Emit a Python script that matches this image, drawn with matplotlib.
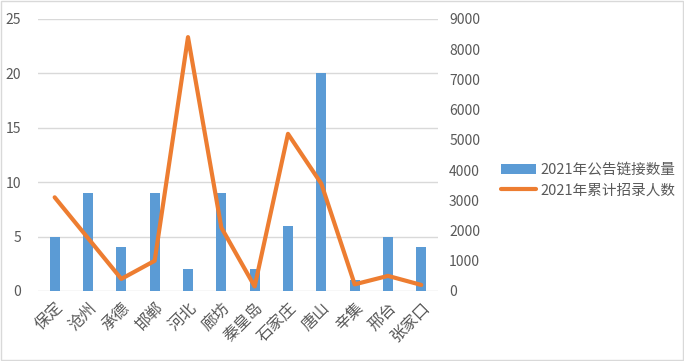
import matplotlib
matplotlib.use("Agg")
import matplotlib.pyplot as plt
from matplotlib.patches import Rectangle

plt.rcParams['font.family'] = ['Noto Sans CJK SC', 'DejaVu Sans']

# data
cities = ["保定", "沧州", "承德", "邯郸", "河北", "廊坊", "秦皇岛", "石家庄", "唐山", "辛集", "邢台", "张家口"]
links = [5, 9, 4, 9, 2, 9, 2, 6, 20, 1, 5, 4]
hires = [3100, 1750, 400, 1000, 8400, 2100, 150, 5200, 3550, 220, 500, 200]
bar_label = "2021年公告链接数量"
line_label = "2021年累计招录人数"

blue = "#5B9BD5"
orange = "#ED7D31"
tick_color = "#595959"
grid_color = "#D9D9D9"

fig = plt.figure(figsize=(6.84, 3.61), dpi=100)
ax = fig.add_axes([38/684, 1 - 291/361, 400/684, 272/361])
ax2 = ax.twinx()

x = list(range(len(cities)))
bars = ax.bar(x, links, width=0.3, color=blue, zorder=2)
line, = ax2.plot(x, hires, color=orange, linewidth=3, solid_capstyle="round", zorder=3)

ax.set_xlim(-0.5, len(cities) - 0.5)
ax.set_ylim(0, 25)
ax.set_yticks(range(0, 26, 5))
ax2.set_ylim(0, 9000)
ax2.set_yticks(range(0, 9001, 1000))

ax.grid(axis="y", color=grid_color, linewidth=1, zorder=0)
ax.set_axisbelow(True)

for a in (ax, ax2):
    for s in a.spines.values():
        s.set_visible(False)
    a.tick_params(length=0, colors=tick_color, labelsize=10)

ax.set_xticks(x)
ax.set_xticklabels(cities, rotation=45, ha="right", rotation_mode="anchor", fontsize=11.5)
ax.tick_params(axis="x", pad=6)
ax.tick_params(axis="y", pad=12)
ax2.tick_params(axis="y", pad=8)

fig.legend([bars, line], [bar_label, line_label], loc="center left",
           bbox_to_anchor=(488/684, 1 - 180/361), frameon=False, fontsize=10.5,
           labelcolor=tick_color, handlelength=2.4, handletextpad=0.3, labelspacing=0.45)

# light frame around the whole chart
fig.patches.append(Rectangle((0.002, 0.003), 0.996, 0.994, transform=fig.transFigure,
                             fill=False, edgecolor="#D9D9D9", linewidth=1))

fig.savefig("out.png", dpi=100)
